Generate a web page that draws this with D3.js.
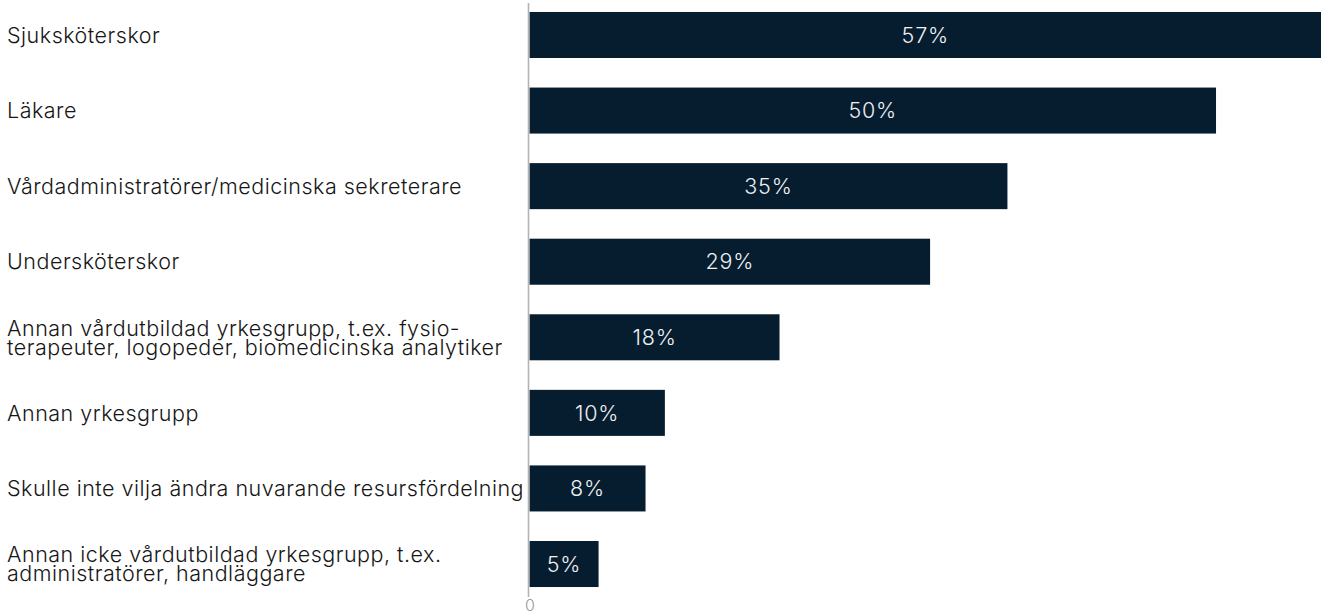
<!DOCTYPE html>
<html>
<head>
<meta charset="utf-8">
<script src="https://cdn.jsdelivr.net/npm/d3@7"></script>
<style>
  body { margin: 0; background: #fff; }
  svg { display: block; }
</style>
</head>
<body>
<div id="chart"></div>
<script>
"use strict";
const categories = [
    ["Sjuksköterskor"],
    ["Läkare"],
    ["Vårdadministratörer/medicinska sekreterare"],
    ["Undersköterskor"],
    ["Annan vårdutbildad yrkesgrupp, t.ex. fysio-", "terapeuter, logopeder, biomedicinska analytiker"],
    ["Annan yrkesgrupp"],
    ["Skulle inte vilja ändra nuvarande resursfördelning"],
    ["Annan icke vårdutbildad yrkesgrupp, t.ex.", "administratörer, handläggare"]
];
const values = [57.3, 49.7, 34.6, 29.0, 18.1, 9.8, 8.4, 5.0];
const xTicks = [0];

const svgWidth = 1328;
const svgHeight = 616;
const barColor = "#061d2f";
const font = "Inter, 'Open Sans', sans-serif";
const fontSize = 21.5;

const svg = d3.select("#chart")
    .append("svg")
    .attr("width", svgWidth)
    .attr("height", svgHeight);

const idx = d3.range(values.length);
const xScale = d3.scaleLinear()
    .domain([0, d3.max(values)])
    .range([529.5, 1321]);
const yScale = d3.scaleBand()
    .domain(idx)
    .range([-2.8, 601.8])
    .paddingInner(0.391)
    .paddingOuter(0.1955);

// bars
svg.selectAll("rect.bar")
    .data(idx)
    .enter()
    .append("rect")
    .attr("class", "bar")
    .attr("x", xScale(0))
    .attr("y", i => yScale(i))
    .attr("width", i => xScale(values[i]) - xScale(0))
    .attr("height", yScale.bandwidth())
    .attr("fill", barColor);

// value labels
svg.selectAll("text.val")
    .data(idx)
    .enter()
    .append("text")
    .attr("class", "val")
    .attr("x", i => (xScale(0) + xScale(values[i])) / 2)
    .attr("y", i => yScale(i) + yScale.bandwidth() / 2)
    .attr("dy", "0.36em")
    .attr("text-anchor", "middle")
    .attr("fill", "#eef0f2")
    .style("font-family", font)
    .style("font-weight", 300)
    .style("font-size", fontSize + "px")
    .style("letter-spacing", "0.8px")
    .text(i => d3.format(".0f")(values[i]) + "%");

// category labels
const labels = svg.selectAll("text.cat")
    .data(idx)
    .enter()
    .append("text")
    .attr("class", "cat")
    .attr("x", 7)
    .attr("y", i => yScale(i) + yScale.bandwidth() / 2)
    .attr("fill", "#161616")
    .style("font-family", font)
    .style("font-weight", 300)
    .style("font-size", fontSize + "px")
    .style("letter-spacing", "0.5px");
labels.each(function (i) {
    const lines = categories[i];
    const lh = 19;
    d3.select(this).selectAll("tspan")
        .data(lines)
        .enter()
        .append("tspan")
        .attr("x", 7)
        .attr("dy", (d, k) => k === 0 ? (0.36 * fontSize - (lines.length - 1) * lh / 2) : lh)
        .text(d => d);
});

// axis line + tick
const xAxis = d3.axisBottom(xScale).tickValues(xTicks).tickSize(0).tickPadding(2);
const ax = svg.append("g")
    .attr("transform", "translate(0, 598)")
    .call(xAxis);
ax.select(".domain").remove();
ax.selectAll("text")
    .attr("fill", "#9a9a9a")
    .style("font-family", font)
    .style("font-weight", 300)
    .style("font-size", "16px");

svg.append("line")
    .attr("x1", xScale(0) - 1)
    .attr("x2", xScale(0) - 1)
    .attr("y1", 3)
    .attr("y2", 597)
    .attr("stroke", "#b3b3b3")
    .attr("stroke-width", 1.6);
</script>
</body>
</html>
